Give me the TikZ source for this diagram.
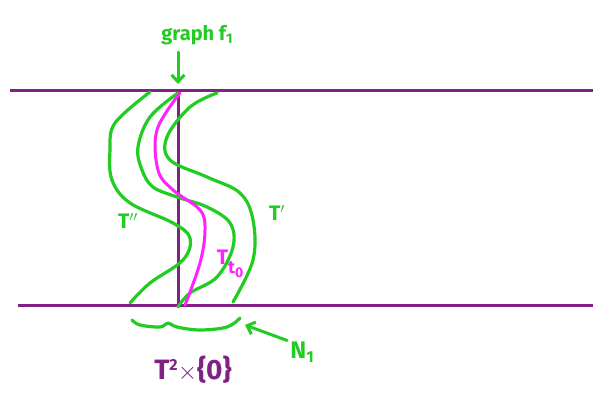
\documentclass[tikz,border=0pt]{standalone}
\usepackage{fontspec}
\setmainfont{Fira Sans}
\usepackage{xcolor}
\usetikzlibrary{arrows.meta}
\definecolor{slab}{RGB}{128,34,132}
\definecolor{tube}{RGB}{34,204,34}
\definecolor{graphline}{RGB}{255,34,255}

\begin{document}
\begin{tikzpicture}[
    x=1pt, y=-1pt,
    every node/.style={inner sep=1pt},
    slabline/.style={draw=slab, line width=3pt},
    tubeline/.style={draw=tube, line width=3.2pt, line cap=round, line join=round},
    pinkline/.style={draw=graphline, line width=3pt, line cap=round},
    tubelabel/.style={text=tube, font=\fontsize{21}{24}\selectfont\bfseries},
    marker/.style={draw=tube, line width=3pt, line cap=round,
                   -{Straight Barb[length=7pt, width=13pt, line width=3pt]}},
]
  \useasboundingbox (0,0) rectangle (593,395);
  % the slab T^2 x [0,1]
  \draw[slabline] (10,91) -- (593,91);
  \draw[slabline] (18,305) -- (593,305);
  \draw[slabline] (178,93) -- (178,306);

  % tube boundary T''
  \draw[tubeline] plot[smooth, tension=0.6] coordinates {(150,92) (115,123) (110,150)
      (112,180) (130,203) (173,223) (190,238) (183,260) (150,283) (130,303)};
  % inner left sheet
  \draw[tubeline] plot[smooth, tension=0.6] coordinates {(178,93) (150,117) (138,147)
      (142,170) (153,187) (177,197) (207,207) (230,223) (233,247) (217,277)
      (190,293) (178,307)};
  % tube boundary T'
  \draw[tubeline] plot[smooth, tension=0.6] coordinates {(217,93) (190,107) (167,137)
      (170,160) (207,177) (240,193) (253,220) (253,260) (233,302)};
  % T_{t_0}
  \draw[pinkline] plot[smooth, tension=0.6] coordinates {(180,93) (157,130) (158,170)
      (173,190) (200,210) (205,230) (200,263) (185,305)};

  \node[tubelabel] (tdd) at (128,221) {T$''$};
  \node[tubelabel] (td) at (277,213) {T$'$};
  \node[text=graphline, font=\fontsize{21}{24}\selectfont\bfseries] (tt) at (230,264)
       {T\raisebox{-9pt}{\fontsize{18}{20}\selectfont t\raisebox{-4pt}{\fontsize{14}{16}\selectfont 0}}};

  % graph f_1 and its arrow
  \node[text=tube, font=\fontsize{20}{24}\selectfont\bfseries] (graph) at (197,35)
       {graph f\raisebox{-3pt}{\fontsize{14}{16}\selectfont 1}};
  \coordinate (gtip) at (178,84);
  \draw[marker] (graph.south -| gtip) ++(0,6) -- (gtip);

  % neighbourhood N_1
  \draw[tubeline] plot[smooth, tension=0.6] coordinates {(132,320) (140,325) (160,327)
      (168,323) (177,327) (200,330) (227,327) (240,318)};
  \node[text=tube, font=\fontsize{24}{26}\selectfont\bfseries] (nn) at (302,352)
       {N\raisebox{-4pt}{\fontsize{16}{18}\selectfont 1}};
  \coordinate (ntip) at (245,325);
  \draw[marker] (nn.north west) ++(-2,0) -- (ntip);

  \node[text=slab, font=\fontsize{28}{30}\selectfont\bfseries] (base) at (193,370)
       {T\raisebox{9pt}{\fontsize{16}{18}\selectfont 2}$\times$\{0\}};
\end{tikzpicture}
\end{document}
